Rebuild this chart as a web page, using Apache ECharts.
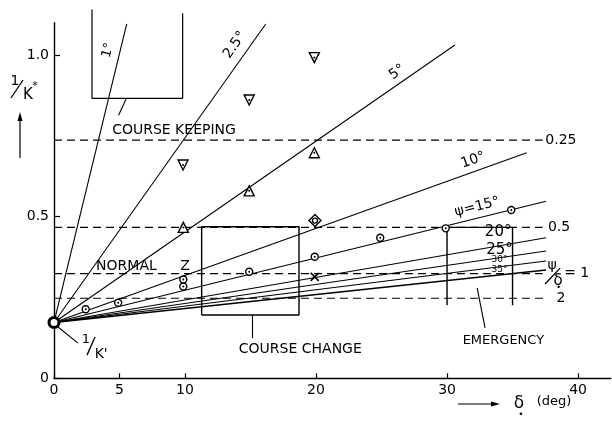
<!DOCTYPE html>
<html>
<head>
<meta charset="utf-8">
<script src="https://cdn.jsdelivr.net/npm/echarts@6/dist/echarts.min.js"></script>
<style>
  html, body { margin: 0; padding: 0; background: #fff; }
  #chart { width: 612px; height: 422px; }
</style>
</head>
<body>
<div id="chart"></div>
<script>
// Steady turning index 1/K* against rudder angle δ0, with constant-ψ lines
// fanning out from 1/K' and constant ψ/δ0 levels.

const originY = 0.173; // 1/K'

// constant heading-angle lines (ψ), drawn from (0, 1/K') to their ends
const fanAngles = ['1°', '2.5°', '5°', '10°', '15°', '20°', '25°', '30°', '35°'];
const fanEndX = [5.55, 16.16, 30.6, 36.08, 37.56, 37.56, 37.56, 37.56, 37.56];
const fanEndY = [1.096, 1.096, 1.031, 0.698, 0.548, 0.435, 0.394, 0.363, 0.335];

// constant ψ/δ0 levels
const ratioLabels = ['0.25', '0.5', '1', '2'];
const ratioLevels = [0.737, 0.467, 0.324, 0.248];
const ratioEndX = [37.3, 37.3, 37.3, 37.6];

// measured points
const circleX = [2.42, 4.9, 9.87, 9.87, 14.9, 19.9, 24.9, 29.9, 34.9];
const circleY = [0.214, 0.234, 0.306, 0.284, 0.330, 0.376, 0.435, 0.464, 0.521];
const triUpX = [9.87, 14.9, 19.87];
const triUpY = [0.467, 0.580, 0.698];
const triDownX = [9.85, 14.9, 19.87];
const triDownY = [0.660, 0.861, 0.992];
const diamondX = [19.92];
const diamondY = [0.488];
const crossX = [19.9];
const crossY = [0.314];

// ticks
const xTicks = [0, 5, 10, 20, 30, 40];
const yTicks = [0, 0.5, 1.0];
const yTickText = ['0', '0.5', '1.0'];

// operating regions (data space)
const keepBoxX = [2.9, 9.82];
const keepBoxY = [0.866, 1.141, 1.129];
const changeBoxX = [11.27, 18.7];
const changeBoxY = [0.196, 0.469];
const emergBoxX = [30, 35];
const emergBoxY = [0.226, 0.467];

const FONT = 'DejaVu Sans';
const INK = '#000';

const zip = (xs, ys) => xs.map((x, i) => [x, ys[i]]);

const series = [];

// fan of constant-ψ lines
fanAngles.forEach((a, i) => {
  series.push({
    type: 'line', name: 'psi ' + a, silent: true, symbol: 'none', clip: false,
    lineStyle: { color: INK, width: i === fanAngles.length - 1 ? 1.6 : 1.1 },
    data: [[0, originY], [fanEndX[i], fanEndY[i]]], z: 3
  });
});

// dashed ψ/δ0 levels
ratioLevels.forEach((v, i) => {
  series.push({
    type: 'line', name: 'ratio ' + ratioLabels[i], silent: true, symbol: 'none',
    lineStyle: { color: INK, width: 1.1, type: [8, 5] },
    data: [[0, v], [ratioEndX[i], v]], z: 2
  });
});

// region boxes
series.push({
  type: 'line', name: 'course keeping', silent: true, symbol: 'none', clip: false,
  lineStyle: { color: INK, width: 1.2 },
  data: [[keepBoxX[0], keepBoxY[1]], [keepBoxX[0], keepBoxY[0]], [keepBoxX[1], keepBoxY[0]], [keepBoxX[1], keepBoxY[2]]]
});
series.push({
  type: 'line', name: 'course change', silent: true, symbol: 'none',
  lineStyle: { color: INK, width: 1.4 },
  data: [[changeBoxX[0], changeBoxY[0]], [changeBoxX[0], changeBoxY[1]], [changeBoxX[1], changeBoxY[1]],
         [changeBoxX[1], changeBoxY[0]], [changeBoxX[0], changeBoxY[0]]]
});
series.push({
  type: 'line', name: 'emergency', silent: true, symbol: 'none',
  lineStyle: { color: INK, width: 1.4 },
  data: [[emergBoxX[0], emergBoxY[0]], [emergBoxX[0], emergBoxY[1]], [emergBoxX[1], emergBoxY[1]], [emergBoxX[1], emergBoxY[0]]]
});

// pointer arrows
const arrows = [
  [[4.93, 0.814], [5.5, 0.864]],
  [[15.1, 0.125], [15.1, 0.196]],
  [[32.9, 0.156], [32.3, 0.280]],
  [[1.83, 0.109], [0.31, 0.159]]
];
// little strokes of the fraction labels
const strokes = [
  [[2.52, 0.072], [3.13, 0.128]],
  [[37.48, 0.292], [38.63, 0.341]]
];
series.push({
  type: 'line', name: 'pointers', silent: true, data: [],
  markLine: {
    silent: true, symbol: ['none', 'arrow'], symbolSize: [0, 8],
    lineStyle: { color: INK, width: 1.1, type: 'solid' },
    label: { show: false },
    data: arrows.map(a => [{ coord: a[0] }, { coord: a[1] }])
  }
});
series.push({
  type: 'line', name: 'strokes', silent: true, data: [],
  markLine: {
    silent: true, symbol: ['none', 'none'],
    lineStyle: { color: INK, width: 1.3, type: 'solid' },
    label: { show: false },
    data: strokes.map(a => [{ coord: a[0] }, { coord: a[1] }])
  }
});

// markers
const hollow = { color: '#fff', borderColor: INK, borderWidth: 1.4, opacity: 1 };
series.push({
  type: 'scatter', name: 'circles', symbol: 'circle', symbolSize: 7,
  itemStyle: hollow, data: zip(circleX, circleY), z: 5
});
series.push({
  type: 'scatter', name: 'triangles', symbol: 'triangle', symbolSize: 10,
  itemStyle: hollow, data: zip(triUpX, triUpY), z: 5
});
series.push({
  type: 'scatter', name: 'inverted triangles', symbol: 'triangle', symbolSize: 10, symbolRotate: 180,
  itemStyle: hollow, data: zip(triDownX, triDownY), z: 5
});
series.push({
  type: 'scatter', name: 'diamonds', symbol: 'diamond', symbolSize: 12,
  itemStyle: hollow, data: zip(diamondX, diamondY), z: 5
});
series.push({
  type: 'scatter', name: 'diamond core', symbol: 'circle', symbolSize: 5,
  itemStyle: hollow, data: zip(diamondX, diamondY), z: 6
});
series.push({
  type: 'scatter', name: 'cross', symbol: 'path://M0,0L10,10M10,0L0,10', symbolSize: 8,
  itemStyle: { color: 'none', borderColor: INK, borderWidth: 1.6, opacity: 1 }, data: zip(crossX, crossY), z: 5
});
series.push({
  type: 'scatter', name: 'centres', symbol: 'circle', symbolSize: 2,
  itemStyle: { color: INK, opacity: 1 },
  data: zip(circleX, circleY).concat(zip(triUpX, triUpY), zip(triDownX, triDownY)), z: 7
});
series.push({
  type: 'scatter', name: "1/K'", symbol: 'circle', symbolSize: 10, clip: false,
  itemStyle: { color: '#fff', borderColor: INK, borderWidth: 3, opacity: 1 },
  data: [[0, originY]], z: 8
});

// text notes in data space
const notes = [
  { t: '1°', at: [4.12, 1.015], rot: 76, size: 13 },
  { t: '2.5°', at: [13.8, 1.031], rot: 55, size: 14 },
  { t: '5°', at: [26.2, 0.947], rot: 35, size: 14 },
  { t: '10°', at: [32.0, 0.675], rot: 20, size: 14 },
  { t: 'ψ=15°', at: [32.3, 0.530], rot: 14, size: 14 },
  { t: '20°', at: [33.9, 0.452], rot: 0, size: 15 },
  { t: '25°', at: [34.0, 0.398], rot: 0, size: 15 },
  { t: '30°', at: [34.0, 0.367], rot: 0, size: 9 },
  { t: '35°', at: [34.0, 0.336], rot: 0, size: 9 },
  { t: 'COURSE KEEPING', at: [9.16, 0.766], rot: 0, size: 14 },
  { t: 'NORMAL', at: [5.53, 0.345], rot: 0, size: 14 },
  { t: 'Z', at: [10.0, 0.345], rot: 0, size: 14 },
  { t: 'COURSE CHANGE', at: [18.8, 0.090], rot: 0, size: 14 },
  { t: 'EMERGENCY', at: [34.3, 0.116], rot: 0, size: 13 },
  { t: '0.25', at: [37.5, 0.737], rot: 0, size: 14, align: 'left' },
  { t: '0.5', at: [37.7, 0.467], rot: 0, size: 14, align: 'left' },
  { t: '2', at: [38.7, 0.249], rot: 0, size: 14 },
  { t: 'ψ', at: [38.02, 0.351], rot: 0, size: 14 },
  { t: 'δ', at: [38.47, 0.302], rot: 0, size: 15 },
  { t: '•', at: [38.52, 0.280], rot: 0, size: 8 },
  { t: '= 1', at: [39.9, 0.326], rot: 0, size: 14 },
  { t: '1', at: [2.44, 0.119], rot: 0, size: 13 },
  { t: "K'", at: [3.6, 0.074], rot: 0, size: 14 }
];
series.push({
  type: 'scatter', name: 'notes', symbolSize: 0, silent: true, clip: false, z: 10,
  itemStyle: { opacity: 1 },
  data: notes.map(n => ({
    value: n.at,
    label: {
      show: true, position: 'inside', formatter: n.t, rotate: n.rot,
      fontSize: n.size, fontFamily: FONT, color: INK, opacity: 1,
      align: n.align || 'center', verticalAlign: 'middle'
    }
  }))
});

const chart = echarts.init(document.getElementById('chart'), null, { renderer: 'canvas' });
chart.setOption({
  backgroundColor: '#fff',
  animation: false,
  grid: { left: 54, right: 1.2, top: 22.7, bottom: 43.6, containLabel: false },
  xAxis: {
    type: 'value', min: 0, max: 42.5, interval: 5,
    axisLine: { show: true, lineStyle: { color: INK, width: 1.4 } },
    axisTick: { show: true, inside: true, length: 5, customValues: xTicks, lineStyle: { color: INK, width: 1.2 } },
    axisLabel: { customValues: xTicks, margin: 5, fontSize: 14, fontFamily: FONT, color: INK, formatter: v => String(v) },
    splitLine: { show: false }
  },
  yAxis: {
    type: 'value', min: 0, max: 1.1, interval: 0.5,
    axisLine: { show: true, lineStyle: { color: INK, width: 1.4 } },
    axisTick: { show: true, inside: true, length: 6, customValues: yTicks, lineStyle: { color: INK, width: 1.2 } },
    axisLabel: {
      customValues: yTicks, margin: 5, fontSize: 14, fontFamily: FONT, color: INK,
      formatter: v => yTickText[yTicks.indexOf(v)] ?? String(v)
    },
    splitLine: { show: false }
  },
  series: series,
  graphic: [
    // y-axis title 1/K* with upward arrow
    { type: 'text', x: 15, y: 81, style: { text: '1', font: '14px ' + FONT, fill: INK, textAlign: 'center', textVerticalAlign: 'middle' } },
    { type: 'line', shape: { x1: 11, y1: 98, x2: 23, y2: 80 }, style: { stroke: INK, lineWidth: 1.3 } },
    { type: 'text', x: 28, y: 95, style: { text: 'K', font: '15px ' + FONT, fill: INK, textAlign: 'center', textVerticalAlign: 'middle' } },
    { type: 'text', x: 35, y: 86, style: { text: '*', font: '11px ' + FONT, fill: INK, textAlign: 'center', textVerticalAlign: 'middle' } },
    { type: 'line', shape: { x1: 20, y1: 158, x2: 20, y2: 118 }, style: { stroke: INK, lineWidth: 1.2 } },
    { type: 'polygon', shape: { points: [[20, 112], [17.5, 121], [22.5, 121]] }, style: { fill: INK } },
    // x-axis title → δ0 (deg)
    { type: 'line', shape: { x1: 458, y1: 404, x2: 493, y2: 404 }, style: { stroke: INK, lineWidth: 1.2 } },
    { type: 'polygon', shape: { points: [[500, 404], [491, 401.5], [491, 406.5]] }, style: { fill: INK } },
    { type: 'text', x: 519, y: 404, style: { text: 'δ', font: '17px ' + FONT, fill: INK, textAlign: 'center', textVerticalAlign: 'middle' } },
    { type: 'text', x: 521, y: 415, style: { text: '•', font: '9px ' + FONT, fill: INK, textAlign: 'center', textVerticalAlign: 'middle' } },
    { type: 'text', x: 554, y: 402, style: { text: '(deg)', font: '13px ' + FONT, fill: INK, textAlign: 'center', textVerticalAlign: 'middle' } }
  ]
});
</script>
</body>
</html>
